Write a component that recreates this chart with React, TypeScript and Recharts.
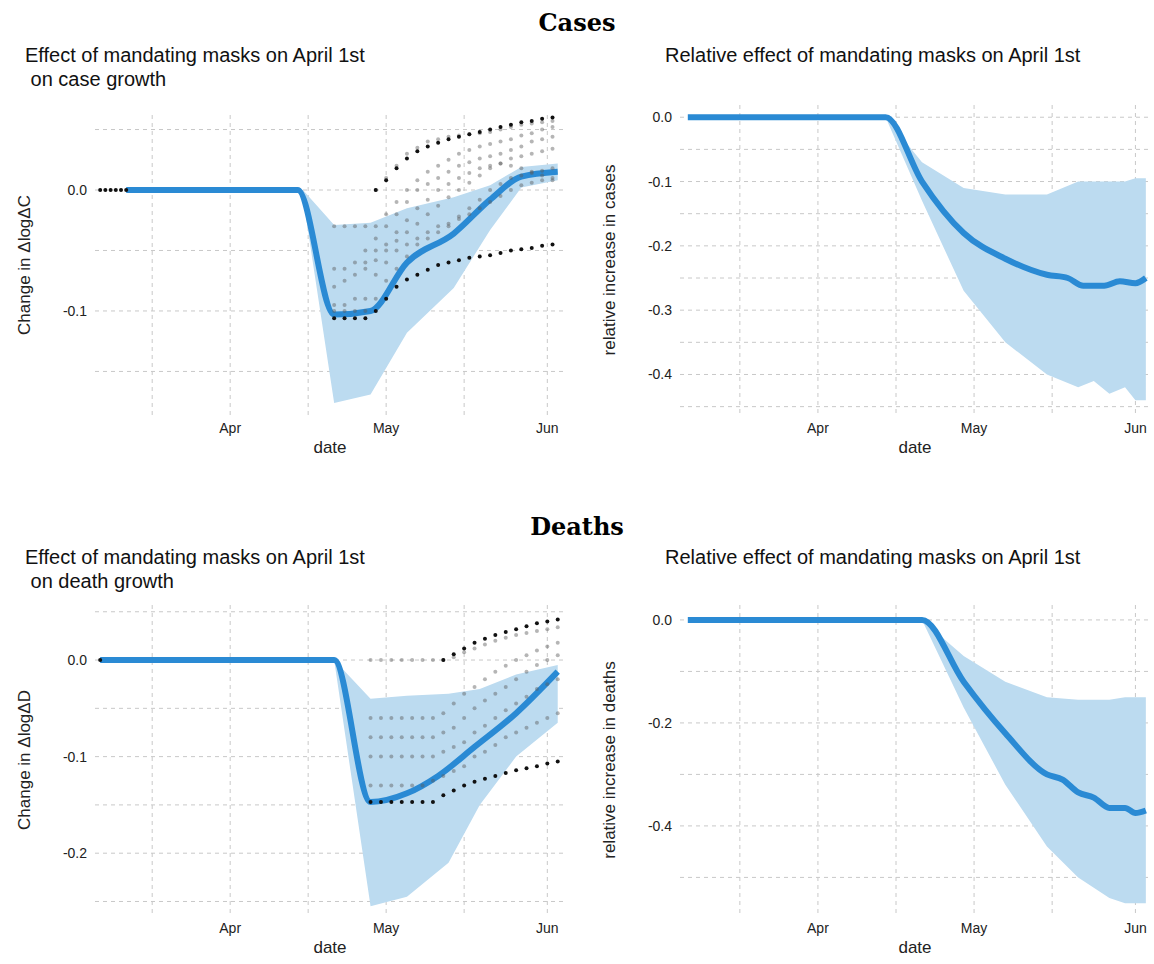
import React from "react";
import { ComposedChart, Line, Area, XAxis, YAxis, CartesianGrid } from "recharts";

// days since April 1st
const X_TICKS = [-15, 0, 15, 30, 45, 61];
const X_LABELS: Record<number, string> = { 0: "Apr", 30: "May", 61: "Jun" };

// ---- cases, absolute effect ----
const caseLineDays = [-20, 13, 20, 27, 34, 43, 50, 56, 63];
const caseLineVals = [0, 0, -0.103, -0.1, -0.06, -0.036, -0.008, 0.011, 0.015];
const caseBandDays = [13, 14, 20, 27, 34, 43, 50, 56, 63];
const caseBandLow = [0, -0.006, -0.176, -0.169, -0.118, -0.081, -0.033, 0.002, 0.008];
const caseBandHigh = [0, 0, -0.029, -0.027, -0.015, -0.006, 0.004, 0.019, 0.022];
const earlyCaseDays = [-25, -24, -23, -22, -21, -20];
const earlyCaseVals = [0, 0, 0, 0, 0, 0];
const caseDotDays = [20, 22, 24, 26, 28, 30, 32, 34, 36, 38, 40, 42, 44, 46, 48, 50, 52, 54, 56, 58, 60, 62];
const caseBlackUp = [null, null, null, null, 0.0, 0.008, 0.018, 0.026, 0.032, 0.036, 0.039, 0.042, 0.044, 0.046, 0.048, 0.05, 0.052, 0.054, 0.056, 0.057, 0.059, 0.06];
const caseBlackLow = [-0.106, -0.106, -0.106, -0.106, -0.1, -0.09, -0.08, -0.074, -0.07, -0.066, -0.062, -0.06, -0.058, -0.056, -0.055, -0.054, -0.052, -0.05, -0.049, -0.048, -0.046, -0.045];
const caseGreyA = [-0.03, -0.03, -0.03, -0.03, -0.03, -0.02, -0.01, 0.0, 0.008, 0.015, 0.02, 0.025, 0.03, 0.033, 0.036, 0.038, 0.04, 0.042, 0.045, 0.047, 0.05, 0.052];
const caseGreyB = [-0.08, -0.075, -0.07, -0.065, -0.058, -0.05, -0.042, -0.035, -0.028, -0.02, -0.013, -0.006, 0.0, 0.006, 0.012, 0.018, 0.022, 0.026, 0.028, 0.03, 0.032, 0.034];
const caseGreyC = [-0.1, -0.1, -0.1, -0.1, -0.09, -0.075, -0.065, -0.055, -0.045, -0.04, -0.035, -0.03, -0.022, -0.015, -0.008, 0.0, 0.005, 0.01, 0.012, 0.014, 0.016, 0.018];
const caseGreyD = [-0.065, -0.065, -0.06, -0.06, -0.05, -0.045, -0.035, -0.025, -0.015, -0.008, 0.0, 0.005, 0.01, 0.014, 0.018, 0.02, 0.022, 0.02, 0.018, 0.015, 0.012, 0.01];
const caseGreyE = [-0.095, -0.095, -0.09, -0.09, -0.07, -0.06, -0.05, -0.045, -0.04, -0.035, -0.03, -0.028, -0.024, -0.02, -0.015, -0.01, -0.005, 0.0, 0.004, 0.006, 0.008, 0.008];
const caseGreyF = [null, null, null, -0.05, -0.04, -0.03, -0.02, -0.01, 0.0, 0.005, 0.01, 0.015, 0.02, 0.023, 0.026, 0.028, 0.03, 0.033, 0.036, 0.04, 0.042, 0.044];
const caseGreyG = [null, null, null, null, 0.0, 0.01, 0.02, 0.03, 0.035, 0.04, 0.042, 0.044, 0.045, 0.046, 0.047, 0.048, 0.05, 0.052, 0.054, 0.055, 0.056, 0.057];

// ---- cases, relative effect ----
const relCaseDays = [-25, 13, 20, 28, 36, 44, 48, 51, 55, 58, 61, 63];
const relCaseVals = [0, 0, -0.1, -0.18, -0.22, -0.245, -0.25, -0.262, -0.262, -0.255, -0.258, -0.25];
const relCaseBandDays = [13, 20, 28, 36, 44, 50, 53, 56, 59, 61, 63];
const relCaseBandLow = [0, -0.13, -0.27, -0.35, -0.4, -0.42, -0.41, -0.43, -0.42, -0.44, -0.44];
const relCaseBandHigh = [0, -0.07, -0.11, -0.12, -0.12, -0.1, -0.1, -0.1, -0.1, -0.095, -0.095];

// ---- deaths, absolute effect ----
const deathLineDays = [-25, 20, 27, 34, 40, 47, 55, 63];
const deathLineVals = [0, 0, -0.147, -0.138, -0.12, -0.09, -0.055, -0.012];
const deathBandDays = [20, 27, 34, 42, 48, 55, 63];
const deathBandLow = [0, -0.255, -0.245, -0.21, -0.15, -0.1, -0.065];
const deathBandHigh = [0, -0.04, -0.037, -0.035, -0.03, -0.015, -0.005];
const earlyDeathDays = [-25];
const earlyDeathVals = [0];
const deathDotDays = [27, 29, 31, 33, 35, 37, 39, 41, 43, 45, 47, 49, 51, 53, 55, 57, 59, 61, 63];
const deathBlackUp = [null, null, null, null, null, null, null, 0.0, 0.006, 0.012, 0.018, 0.022, 0.026, 0.029, 0.032, 0.035, 0.038, 0.04, 0.042];
const deathBlackLow = [-0.147, -0.147, -0.147, -0.147, -0.147, -0.147, -0.147, -0.14, -0.135, -0.13, -0.126, -0.123, -0.12, -0.117, -0.114, -0.112, -0.11, -0.107, -0.105];
const deathGreyA = [0, 0, 0, 0, 0, 0, 0, 0, 0.003, 0.008, 0.012, 0.016, 0.02, 0.023, 0.026, 0.028, 0.03, 0.032, 0.034];
const deathGreyB = [-0.06, -0.06, -0.06, -0.06, -0.06, -0.06, -0.06, -0.055, -0.045, -0.035, -0.028, -0.02, -0.012, -0.006, 0.0, 0.005, 0.01, 0.014, 0.018];
const deathGreyC = [-0.1, -0.1, -0.1, -0.1, -0.1, -0.1, -0.1, -0.095, -0.09, -0.085, -0.075, -0.068, -0.06, -0.052, -0.045, -0.038, -0.03, -0.025, -0.02];
const deathGreyD = [-0.13, -0.13, -0.13, -0.13, -0.13, -0.13, -0.125, -0.12, -0.115, -0.11, -0.1, -0.095, -0.088, -0.08, -0.075, -0.07, -0.065, -0.06, -0.055];
const deathGreyE = [-0.08, -0.08, -0.08, -0.08, -0.08, -0.08, -0.08, -0.075, -0.07, -0.06, -0.05, -0.042, -0.035, -0.028, -0.02, -0.012, -0.005, 0.0, 0.005];

// ---- deaths, relative effect ----
const relDeathDays = [-25, 20, 28, 36, 44, 47, 50, 53, 56, 59, 61, 63];
const relDeathVals = [0, 0, -0.12, -0.22, -0.3, -0.31, -0.335, -0.345, -0.365, -0.365, -0.375, -0.37];
const relDeathBandDays = [20, 28, 36, 44, 50, 56, 59, 63];
const relDeathBandLow = [0, -0.17, -0.32, -0.44, -0.5, -0.54, -0.55, -0.55];
const relDeathBandHigh = [0, -0.07, -0.12, -0.15, -0.155, -0.155, -0.15, -0.15];

const BLUE = "#2a8ad4";
const BAND = "#bcdbf0";
const GRID = "#c8c8c8";
const FONT = "'Liberation Sans', Arial, sans-serif";

const pts = (days: number[], vals: (number | null)[]) =>
  days.map((x, i) => ({ x, y: vals[i] })).filter((p) => p.y !== null);
const band = (days: number[], lo: number[], hi: number[]) =>
  days.map((x, i) => ({ x, r: [lo[i], hi[i]] }));

type Dots = { data: { x: number; y: number | null }[]; color: string };

function Panel(props: {
  left: number; top: number; height: number; marginTop: number;
  xDomain: [number, number]; yDomain: [number, number];
  yTicks: number[]; yLabeled: number[]; yLabel: string;
  bandData: any[]; lineData: any[]; dots: Dots[];
}) {
  const { left, top, height } = props;
  const [x0, x1] = props.xDomain;
  const [y0, y1] = props.yDomain;
  // grid only at the tick values, no frame on the plot edges
  const vGen = ({ offset }: any) =>
    X_TICKS.map((t) => offset.left + ((t - x0) / (x1 - x0)) * offset.width);
  const hGen = ({ offset }: any) =>
    props.yTicks.map((t) => offset.top + ((y1 - t) / (y1 - y0)) * offset.height);
  return (
    <div style={{ position: "absolute", left, top }}>
      <ComposedChart width={575} height={height} margin={{ top: props.marginTop, right: 10, left: 0, bottom: 0 }}>
        <CartesianGrid strokeDasharray="4 4" stroke={GRID}
          verticalCoordinatesGenerator={vGen} horizontalCoordinatesGenerator={hGen} />
        <XAxis
          type="number" dataKey="x" domain={props.xDomain} ticks={X_TICKS} allowDataOverflow
          tickFormatter={(v) => X_LABELS[v] ?? ""} axisLine={false} tickLine={false} height={55}
          tick={{ fontSize: 14, fill: "#222", fontFamily: FONT }}
          label={{ value: "date", position: "insideTop", offset: 26, fontSize: 17, fill: "#222", fontFamily: FONT }}
        />
        <YAxis
          type="number" domain={props.yDomain} ticks={props.yTicks} allowDataOverflow width={95}
          tickFormatter={(v) => (props.yLabeled.some((t) => Math.abs(t - v) < 1e-9) ? v.toFixed(1) : "")}
          axisLine={false} tickLine={false} tick={{ fontSize: 14, fill: "#222", fontFamily: FONT }}
          label={{ value: props.yLabel, angle: -90, position: "insideLeft", offset: 24, fontSize: 17, fill: "#222", fontFamily: FONT, style: { textAnchor: "middle" } }}
        />
        <Area data={props.bandData} dataKey="r" type="linear" stroke="none" fill={BAND} fillOpacity={1} isAnimationActive={false} />
        {props.dots.map((d, i) => (
          <Line key={i} data={d.data} dataKey="y" stroke="none" isAnimationActive={false}
            dot={{ r: 2, fill: d.color, stroke: "none" }} activeDot={false} />
        ))}
        <Line data={props.lineData} dataKey="y" type="monotone" stroke={BLUE} strokeWidth={6} dot={false} isAnimationActive={false} />
      </ComposedChart>
    </div>
  );
}

const BLACK = "#111";
const GREY = "rgba(90,90,90,0.45)";

const title: React.CSSProperties = { position: "absolute", fontFamily: FONT, fontSize: 20, color: "#111", whiteSpace: "pre", lineHeight: "24px" };
const head: React.CSSProperties = { position: "absolute", left: 0, width: 1154, textAlign: "center", fontFamily: "'DejaVu Serif', serif", fontWeight: "bold", fontSize: 24 };

export default function App() {
  return (
    <div style={{ position: "absolute", left: 0, top: 0, width: 1154, height: 964, background: "#fff" }}>
      <div style={{ ...head, top: 8 }}>Cases</div>
      <div style={{ ...title, left: 25, top: 43 }}>{"Effect of mandating masks on April 1st\n on case growth"}</div>
      <div style={{ ...title, left: 665, top: 43 }}>Relative effect of mandating masks on April 1st</div>
      <div style={{ ...head, top: 512 }}>Deaths</div>
      <div style={{ ...title, left: 25, top: 545 }}>{"Effect of mandating masks on April 1st\n on death growth"}</div>
      <div style={{ ...title, left: 665, top: 545 }}>Relative effect of mandating masks on April 1st</div>

      <Panel left={0} top={100} height={370} marginTop={15} xDomain={[-26, 64.4]} yDomain={[-0.186, 0.062]}
        yTicks={[0.05, 0, -0.05, -0.1, -0.15]} yLabeled={[0, -0.1]} yLabel="Change in ΔlogΔC"
        bandData={band(caseBandDays, caseBandLow, caseBandHigh)} lineData={pts(caseLineDays, caseLineVals)}
        dots={[
          { data: pts(caseDotDays, caseGreyA), color: GREY },
          { data: pts(caseDotDays, caseGreyB), color: GREY },
          { data: pts(caseDotDays, caseGreyC), color: GREY },
          { data: pts(caseDotDays, caseGreyD), color: GREY },
          { data: pts(caseDotDays, caseGreyE), color: GREY },
          { data: pts(caseDotDays, caseGreyF), color: GREY },
          { data: pts(caseDotDays, caseGreyG), color: GREY },
          { data: pts(caseDotDays, caseBlackUp), color: BLACK },
          { data: pts(caseDotDays, caseBlackLow), color: BLACK },
          { data: pts(earlyCaseDays, earlyCaseVals), color: BLACK },
        ]} />
      <Panel left={585} top={100} height={370} marginTop={5} xDomain={[-26.5, 63.8]} yDomain={[-0.463, 0.019]}
        yTicks={[0, -0.05, -0.1, -0.15, -0.2, -0.25, -0.3, -0.35, -0.4, -0.45]} yLabeled={[0, -0.1, -0.2, -0.3, -0.4]}
        yLabel="relative increase in cases"
        bandData={band(relCaseBandDays, relCaseBandLow, relCaseBandHigh)} lineData={pts(relCaseDays, relCaseVals)} dots={[]} />
      <Panel left={0} top={590} height={380} marginTop={15} xDomain={[-26, 64.4]} yDomain={[-0.264, 0.057]}
        yTicks={[0.05, 0, -0.05, -0.1, -0.15, -0.2, -0.25]} yLabeled={[0, -0.1, -0.2]} yLabel="Change in ΔlogΔD"
        bandData={band(deathBandDays, deathBandLow, deathBandHigh)} lineData={pts(deathLineDays, deathLineVals)}
        dots={[
          { data: pts(deathDotDays, deathGreyA), color: GREY },
          { data: pts(deathDotDays, deathGreyB), color: GREY },
          { data: pts(deathDotDays, deathGreyC), color: GREY },
          { data: pts(deathDotDays, deathGreyD), color: GREY },
          { data: pts(deathDotDays, deathGreyE), color: GREY },
          { data: pts(deathDotDays, deathBlackUp), color: BLACK },
          { data: pts(deathDotDays, deathBlackLow), color: BLACK },
          { data: pts(earlyDeathDays, earlyDeathVals), color: BLACK },
        ]} />
      <Panel left={585} top={590} height={380} marginTop={15} xDomain={[-26.5, 63.8]} yDomain={[-0.573, 0.029]}
        yTicks={[0, -0.1, -0.2, -0.3, -0.4, -0.5]} yLabeled={[0, -0.2, -0.4]} yLabel="relative increase in deaths"
        bandData={band(relDeathBandDays, relDeathBandLow, relDeathBandHigh)} lineData={pts(relDeathDays, relDeathVals)} dots={[]} />
    </div>
  );
}
